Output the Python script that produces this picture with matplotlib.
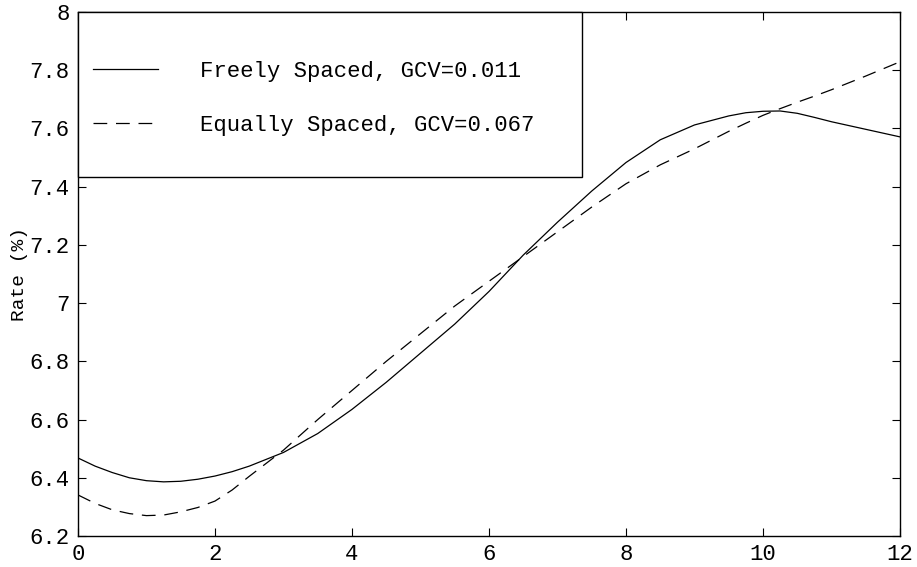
import matplotlib
matplotlib.use("Agg")
import matplotlib.pyplot as plt
from matplotlib.patches import Rectangle
from matplotlib.ticker import FuncFormatter

# maturity (x) and rates
x = [0, 0.25, 0.5, 0.75, 1.0, 1.25, 1.5, 1.75, 2.0, 2.25, 2.5, 3.0, 3.5, 4.0,
     4.5, 5.0, 5.5, 6.0, 6.5, 7.0, 7.5, 8.0, 8.5, 9.0, 9.5, 9.75, 10.0,
     10.25, 10.5, 10.75, 11.0, 11.5, 12.0]
freely = [6.468, 6.440, 6.418, 6.400, 6.390, 6.386, 6.388, 6.395, 6.406, 6.421,
          6.440, 6.487, 6.552, 6.635, 6.728, 6.828, 6.928, 7.040, 7.165, 7.278,
          7.385, 7.483, 7.561, 7.612, 7.643, 7.654, 7.659, 7.660, 7.652, 7.638,
          7.623, 7.597, 7.571]
equally = [6.341, 6.312, 6.290, 6.277, 6.270, 6.272, 6.283, 6.298, 6.320, 6.358,
           6.405, 6.495, 6.600, 6.700, 6.800, 6.895, 6.990, 7.075, 7.160, 7.245,
           7.330, 7.410, 7.475, 7.530, 7.590, 7.618, 7.645, 7.668, 7.690, 7.711,
           7.733, 7.780, 7.829]
labels = ["Freely Spaced, GCV=0.011", "Equally Spaced, GCV=0.067"]
xticks = [0, 2, 4, 6, 8, 10, 12]
yticks = [6.2, 6.4, 6.6, 6.8, 7.0, 7.2, 7.4, 7.6, 7.8, 8.0]

plt.rcParams["font.family"] = ["Liberation Mono", "DejaVu Sans Mono"]

fig = plt.figure(figsize=(9.17, 5.67), dpi=100)
ax = fig.add_axes([78 / 917, 31 / 567, 822 / 917, 524 / 567])

ax.plot(x, freely, color="black", linewidth=0.9, label=labels[0])
ax.plot(x, equally, color="black", linewidth=0.9, dashes=(11, 7), label=labels[1])

ax.set_xlim(0, 12)
ax.set_ylim(6.2, 8)
ax.set_xticks(xticks)
ax.set_yticks(yticks)
ax.yaxis.set_major_formatter(FuncFormatter(lambda v, p: f"{v:g}"))
ax.tick_params(direction="in", length=6, width=0.8, top=True, right=True,
               labelsize=16, pad=6)
ax.set_ylabel("Rate (%)", fontsize=14, labelpad=1)
for s in ax.spines.values():
    s.set_linewidth(1)

# legend box
ax.add_patch(Rectangle((0, 0.685), 0.613, 0.315, transform=ax.transAxes,
                       facecolor="white", edgecolor="black", linewidth=1,
                       zorder=3, clip_on=False))
leg = ax.legend(loc="upper left", bbox_to_anchor=(0.018, 0.907), frameon=False,
                borderpad=0, borderaxespad=0, fontsize=16, handlelength=2.93,
                handletextpad=1.9, labelspacing=1.48)
leg.set_zorder(4)

fig.savefig("out.png", dpi=100)
